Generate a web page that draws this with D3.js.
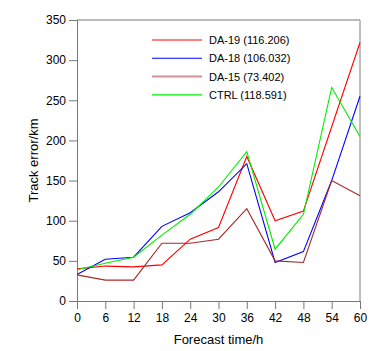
<!DOCTYPE html>
<html><head><meta charset="utf-8">
<script src="https://cdn.jsdelivr.net/npm/d3@7"></script>
<style>body{margin:0;background:#fff}svg{display:block}text{font-family:"Liberation Sans",Arial,sans-serif;fill:#000}</style>
</head><body>
<script>
const hours = [0,6,12,18,24,30,36,42,48,54,60];
const da19 = [40,43.5,42.5,45,77,91.5,180,100,112,217,322];
const da18 = [33,52,54.5,93,110,136,171,48,61.5,150,255];
const da15 = [32.5,26,26,72,72,77,115,50,48,150,131];
const ctrl = [39,47,54.5,82,108,142,186,64.5,108,266,205];
const seriesNames = ["DA-19 (116.206)","DA-18 (106.032)","DA-15 (73.402)","CTRL (118.591)"];
const seriesColors = ["#ff0000","#0000ff","#a52a2a","#00ee00"];
const yTicks = [0,50,100,150,200,250,300,350];

const W=384,H=351;
const m={l:77,r:24,t:20,b:50};
const svg=d3.select("body").append("svg").attr("width",W).attr("height",H);
const x=d3.scaleLinear().domain([0,60]).range([m.l,W-m.r]);
const y=d3.scaleLinear().domain([0,350]).range([H-m.b,m.t]);

// frame
svg.append("line").attr("x1",x(0)).attr("x2",x(60)).attr("y1",y(350)).attr("y2",y(350)).attr("stroke","#777");
svg.append("line").attr("x1",x(60)).attr("x2",x(60)).attr("y1",y(350)).attr("y2",y(0)).attr("stroke","#aaa").attr("stroke-width",1.5);

const xa=svg.append("g").attr("transform",`translate(0,${y(0)})`).call(d3.axisBottom(x).tickValues(hours).tickSize(8).tickPadding(4));
const ya=svg.append("g").attr("transform",`translate(${x(0)},0)`).call(d3.axisLeft(y).tickValues(yTicks).tickSize(8).tickPadding(3));
[xa,ya].forEach(a=>{a.selectAll("path,line").attr("stroke","#777");a.selectAll("text").attr("font-size",12).attr("font-family","Liberation Sans, Arial, sans-serif");});

const data=[da19,da18,da15,ctrl];
const line=d3.line().x((d,i)=>x(hours[i])).y(d=>y(d));
data.forEach((s,k)=>{
  svg.append("path").attr("d",line(s)).attr("fill","none").attr("stroke",seriesColors[k]).attr("stroke-width",1.1);
});

// legend
const lg=svg.append("g");
seriesNames.forEach((n,k)=>{
  const yy=40+k*18.3;
  lg.append("line").attr("x1",152).attr("x2",202).attr("y1",yy).attr("y2",yy)
    .attr("stroke",seriesColors[k]).attr("stroke-width",k===2?2:1.1).attr("stroke-opacity",k===2?0.5:1);
  lg.append("text").attr("x",209).attr("y",yy+4).attr("font-size",11).text(n);
});

svg.append("text").attr("x",(x(0)+x(60))/2).attr("y",344).attr("text-anchor","middle").attr("font-size",13).text("Forecast time/h");
svg.append("text").attr("transform",`translate(38,${(y(0)+y(350))/2}) rotate(-90)`).attr("text-anchor","middle").attr("font-size",13).text("Track error/km");
</script>
</body></html>
